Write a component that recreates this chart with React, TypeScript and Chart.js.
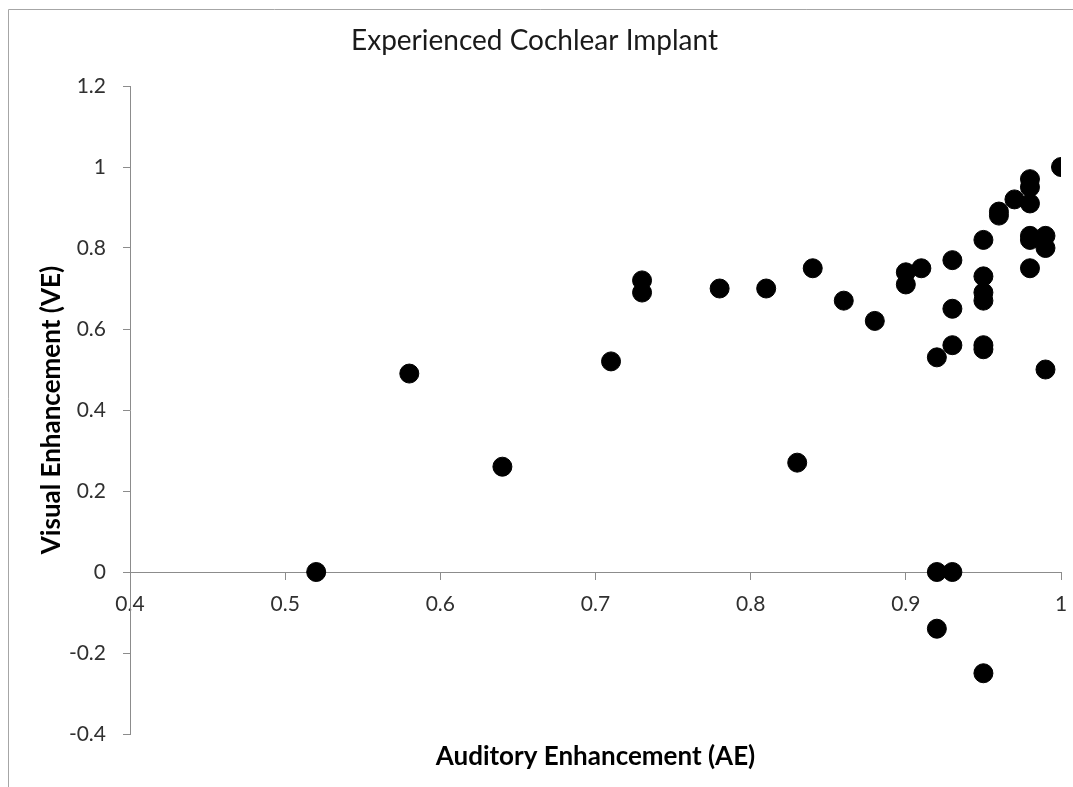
import React, { useEffect, useRef } from "react";
import { Chart, registerables } from "chart.js";

Chart.register(...registerables);

const TITLE = "Experienced Cochlear Implant";
const X_TITLE = "Auditory Enhancement (AE)";
const Y_TITLE = "Visual Enhancement (VE)";

const aeValues = [
  0.52, 0.58, 0.64, 0.71, 0.73, 0.73, 0.78, 0.81, 0.83, 0.84, 0.86, 0.88, 0.9, 0.9,
  0.91, 0.92, 0.92, 0.92, 0.93, 0.93, 0.93, 0.93, 0.95, 0.95, 0.95, 0.95, 0.95, 0.95,
  0.95, 0.96, 0.96, 0.97, 0.98, 0.98, 0.98, 0.98, 0.98, 0.98, 0.99, 0.99, 0.99, 1.0,
];
const veValues = [
  0.0, 0.49, 0.26, 0.52, 0.72, 0.69, 0.7, 0.7, 0.27, 0.75, 0.67, 0.62, 0.74, 0.71,
  0.75, 0.53, 0.0, -0.14, 0.0, 0.77, 0.65, 0.56, 0.82, 0.73, 0.69, 0.67, 0.56, 0.55,
  -0.25, 0.89, 0.88, 0.92, 0.97, 0.95, 0.91, 0.83, 0.82, 0.75, 0.83, 0.8, 0.5, 1.0,
];

const X_MIN = 0.4;
const X_MAX = 1.0;
const X_STEP = 0.1;
const Y_MIN = -0.4;
const Y_MAX = 1.2;
const Y_STEP = 0.2;

const FONT = "Lato, 'Open Sans', sans-serif";
const AXIS_COLOR = "#8c8c8c";
const TICK_TEXT = "#303030";

const fmt = (v: number) => String(Number(Number(v).toFixed(2)));

const framePlugin = {
  id: "frame",
  beforeDraw(chart: any) {
    const ctx = chart.ctx;
    ctx.save();
    ctx.fillStyle = "#ffffff";
    ctx.fillRect(0, 0, chart.width, chart.height);
    ctx.strokeStyle = "#a6a6a6";
    ctx.lineWidth = 1;
    ctx.beginPath();
    ctx.moveTo(8.5, chart.height);
    ctx.lineTo(8.5, 9.5);
    ctx.lineTo(chart.width, 9.5);
    ctx.stroke();
    ctx.restore();
  },
};

export default function App() {
  const ref = useRef<HTMLCanvasElement | null>(null);

  useEffect(() => {
    if (!ref.current) return;
    document.documentElement.style.overflow = "hidden";
    document.body.style.margin = "0";
    const points = aeValues.map((x, i) => ({ x, y: veValues[i] }));
    const chart = new Chart(ref.current, {
      type: "scatter",
      data: {
        datasets: [
          {
            label: "VE vs AE",
            data: points,
            backgroundColor: "#000000",
            borderColor: "#000000",
            borderWidth: 1,
            pointRadius: 9.5,
            pointHoverRadius: 9.5,
          },
        ],
      },
      options: {
        responsive: false,
        maintainAspectRatio: false,
        animation: false,
        devicePixelRatio: 1,
        layout: { autoPadding: false, padding: { left: 8, right: 12, top: 0, bottom: 0 } },
        plugins: {
          legend: { display: false },
          tooltip: { enabled: false },
          title: {
            display: true,
            text: TITLE,
            color: "#1a1a1a",
            font: { family: FONT, size: 28, weight: "normal" },
            padding: { top: 24, bottom: 28.4 },
          },
        },
        scales: {
          x: {
            type: "linear",
            position: { y: 0 },
            min: X_MIN,
            max: X_MAX,
            border: { display: true, color: AXIS_COLOR, width: 1 },
            grid: {
              display: true,
              drawOnChartArea: false,
              drawTicks: true,
              tickLength: 7,
              color: AXIS_COLOR,
            },
            ticks: {
              stepSize: X_STEP,
              color: TICK_TEXT,
              padding: 13,
              maxRotation: 0,
              font: { family: FONT, size: 21 },
              callback: (v: any) => fmt(v),
            },
            afterFit: (scale: any) => {
              scale.paddingLeft = 0;
              scale.paddingRight = 0;
            },
          },
          x2: {
            type: "linear",
            position: "bottom",
            min: X_MIN,
            max: X_MAX,
            border: { display: false },
            grid: { display: false },
            ticks: { display: false },
            title: {
              display: true,
              text: X_TITLE,
              color: "#000000",
              font: { family: FONT, size: 26, weight: "bold" },
              padding: { top: 0, bottom: 14.4 },
            },
            afterFit: (scale: any) => {
              scale.height = 53;
              scale.paddingLeft = 0;
              scale.paddingRight = 0;
            },
          },
          y: {
            type: "linear",
            position: "left",
            min: Y_MIN,
            max: Y_MAX,
            border: { display: true, color: AXIS_COLOR, width: 1 },
            grid: {
              display: true,
              drawOnChartArea: false,
              drawTicks: true,
              tickLength: 7,
              color: AXIS_COLOR,
            },
            ticks: {
              stepSize: Y_STEP,
              color: TICK_TEXT,
              padding: 17,
              font: { family: FONT, size: 21 },
              callback: (v: any) => fmt(v),
            },
            title: {
              display: true,
              text: Y_TITLE,
              color: "#000000",
              font: { family: FONT, size: 26, weight: "bold" },
              padding: { top: 28.4, bottom: 0 },
            },
            afterFit: (scale: any) => {
              scale.width = 122;
            },
          },
        },
      },
      plugins: [framePlugin],
    });
    return () => chart.destroy();
  }, []);

  return (
    <div
      style={{
        position: "fixed",
        left: 0,
        top: 0,
        width: 1073,
        height: 787,
        overflow: "hidden",
      }}
    >
      <canvas
        ref={ref}
        width={1073}
        height={787}
        style={{ display: "block", width: 1073, height: 787 }}
      />
    </div>
  );
}
